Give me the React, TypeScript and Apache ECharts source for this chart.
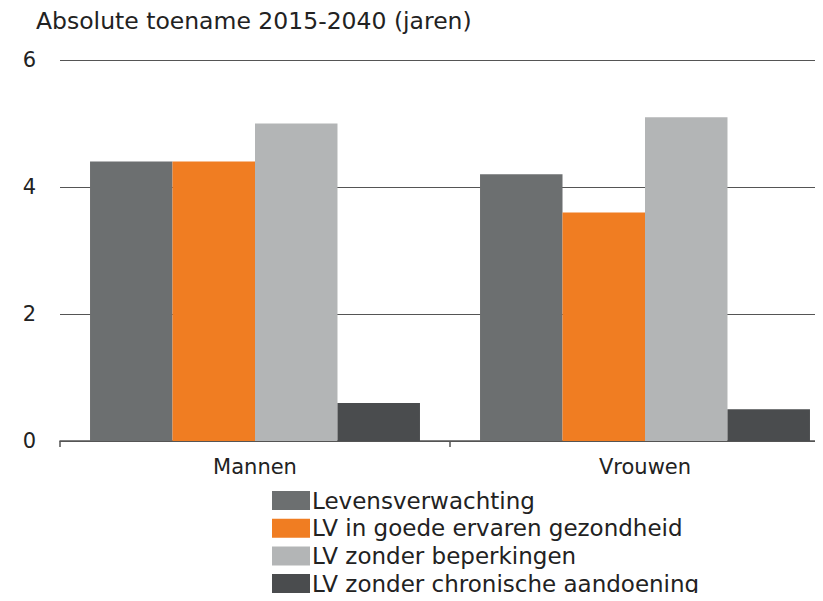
import React, { useEffect, useRef } from "react";
import * as echarts from "echarts";

const categories = ["Mannen", "Vrouwen"];
const seriesNames = [
  "Levensverwachting",
  "LV in goede ervaren gezondheid",
  "LV zonder beperkingen",
  "LV zonder chronische aandoening",
];
const levensverwachting = [4.4, 4.2];
const goedeGezondheid = [4.4, 3.6];
const zonderBeperkingen = [5.0, 5.1];
const zonderChronisch = [0.6, 0.5];
const yTicks = [0, 2, 4, 6];
const colors = ["#6c6f70", "#f07d22", "#b3b5b6", "#4a4c4e"];

export default function App() {
  const ref = useRef<HTMLDivElement>(null);
  useEffect(() => {
    if (!ref.current) return;
    const chart = echarts.init(ref.current, undefined, { renderer: "svg" });
    const values = [levensverwachting, goedeGezondheid, zonderBeperkingen, zonderChronisch];
    const font = "Verdana, 'DejaVu Sans', sans-serif";
    chart.setOption({
      animation: false,
      textStyle: { fontFamily: font },
      title: {
        text: "Absolute toename 2015-2040 (jaren)",
        left: 31,
        top: 4,
        textStyle: { fontFamily: font, fontSize: 23.5, fontWeight: "normal", color: "#222" },
      },
      legend: {
        orient: "vertical",
        left: 267,
        top: 484,
        itemWidth: 38,
        itemHeight: 19,
        itemGap: 4.7,
        icon: "rect",
        data: seriesNames,
        textStyle: { fontFamily: font, fontSize: 23, color: "#222", padding: [0, 0, 0, -3] },
      },
      grid: { left: 60, right: 0, top: 60, bottom: 199, containLabel: false },
      xAxis: {
        type: "category",
        data: categories,
        axisLine: { show: true, lineStyle: { color: "#555", width: 1.5 } },
        axisTick: { show: true, alignWithLabel: false, length: 6, lineStyle: { color: "#555", width: 1.5 } },
        axisLabel: { fontFamily: font, fontSize: 21, color: "#222", margin: 15 },
      },
      yAxis: {
        type: "value",
        min: yTicks[0],
        max: yTicks[yTicks.length - 1],
        interval: 2,
        axisLine: { show: false },
        axisTick: { show: false },
        axisLabel: { fontFamily: font, fontSize: 21, color: "#222", margin: 24 },
        splitLine: { lineStyle: { color: "#555", width: 1.2 } },
      },
      series: seriesNames.map((name, i) => ({
        name,
        type: "bar",
        data: values[i],
        barGap: "0%",
        barCategoryGap: "15.4%",
        itemStyle: { color: colors[i] },
      })),
    });
    return () => chart.dispose();
  }, []);
  return (
    <div style={{ width: 823, height: 601, margin: -8, overflow: "hidden", position: "relative" }}>
      <div ref={ref} style={{ width: 840, height: 640 }} />
    </div>
  );
}
